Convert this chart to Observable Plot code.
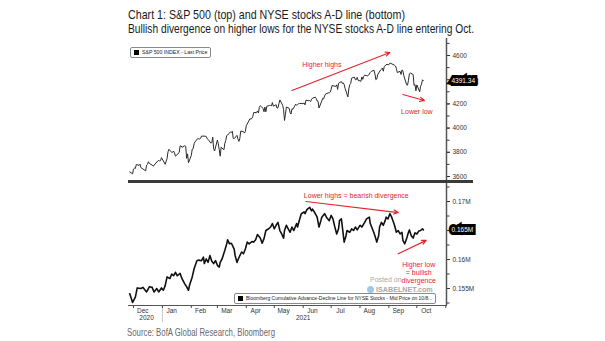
<!DOCTYPE html>
<html><head><meta charset="utf-8">
<script src="https://cdn.jsdelivr.net/npm/d3@7"></script>
<script src="https://cdn.jsdelivr.net/npm/@observablehq/plot@0.6"></script>
<style>
html,body{margin:0;padding:0;background:#fff;}
#wrap{position:relative;width:605px;height:341px;overflow:hidden;background:#fff;font-family:"Liberation Sans",Arial,sans-serif;}
.abs{position:absolute;}
.legend{position:absolute;border:1px solid #8a8a8a;border-radius:2px;background:#fff;font-family:"Liberation Sans",Arial,sans-serif;font-size:5.2px;color:#222;line-height:9px;padding:0 3px;white-space:nowrap;box-sizing:border-box;height:11px;}
.legend i{display:inline-block;width:5px;height:5px;background:#000;margin-right:3px;vertical-align:-0.5px;}
.wm{position:absolute;color:#a8a8a8;white-space:nowrap;}
</style></head><body>
<div id="wrap">
  <svg id="title" class="abs" style="left:0;top:0" width="605" height="38"></svg>
  <div id="top" class="abs" style="left:0;top:38px"></div>
  <div id="bottom" class="abs" style="left:0;top:182px"></div>
  <div class="abs" style="left:128px;top:180px;width:345px;height:3px;background:#3a3a3a"></div>
  <div class="legend" style="left:130px;top:47px;"><i></i>S&amp;P 500 INDEX - Last Price</div>
  <div class="wm" style="left:370px;top:276px;font-size:7px;">Posted on</div>
  <div class="abs" style="left:367px;top:286px;width:7px;height:7px;border-radius:50%;background:#9cc9e6;"></div>
  <div class="wm" style="left:376px;top:285px;font-size:7.2px;font-weight:bold;">ISABELNET.com</div>
  <div class="legend" style="left:234px;top:293px;font-size:5px;"><i></i>Bloomberg Cumulative Advance-Decline Line for NYSE Stocks - Mid Price on 10/8...</div>
  <svg id="source" class="abs" style="left:0;top:322px" width="605" height="19"></svg>
</div>
<script>
// ---------- data ----------
const titleLines = ["Chart 1: S&P 500 (top) and NYSE stocks A-D line (bottom)",
  "Bullish divergence on higher lows for the NYSE stocks A-D line entering Oct."];
const sourceText = "Source: BofA Global Research, Bloomberg";

const spxDates = [
"2020-11-27","2020-11-30",
"2020-12-01","2020-12-02","2020-12-03","2020-12-04","2020-12-07","2020-12-08","2020-12-09","2020-12-10","2020-12-11","2020-12-14","2020-12-15","2020-12-16","2020-12-17","2020-12-18","2020-12-21","2020-12-22","2020-12-23","2020-12-24","2020-12-28","2020-12-29","2020-12-30","2020-12-31",
"2021-01-04","2021-01-05","2021-01-06","2021-01-07","2021-01-08","2021-01-11","2021-01-12","2021-01-13","2021-01-14","2021-01-15","2021-01-19","2021-01-20","2021-01-21","2021-01-22","2021-01-25","2021-01-26","2021-01-27","2021-01-28","2021-01-29",
"2021-02-01","2021-02-02","2021-02-03","2021-02-04","2021-02-05","2021-02-08","2021-02-09","2021-02-10","2021-02-11","2021-02-12","2021-02-16","2021-02-17","2021-02-18","2021-02-19","2021-02-22","2021-02-23","2021-02-24","2021-02-25","2021-02-26",
"2021-03-01","2021-03-02","2021-03-03","2021-03-04","2021-03-05","2021-03-08","2021-03-09","2021-03-10","2021-03-11","2021-03-12","2021-03-15","2021-03-16","2021-03-17","2021-03-18","2021-03-19","2021-03-22","2021-03-23","2021-03-24","2021-03-25","2021-03-26","2021-03-29","2021-03-30","2021-03-31",
"2021-04-01","2021-04-05","2021-04-06","2021-04-07","2021-04-08","2021-04-09","2021-04-12","2021-04-13","2021-04-14","2021-04-15","2021-04-16","2021-04-19","2021-04-20","2021-04-21","2021-04-22","2021-04-23","2021-04-26","2021-04-27","2021-04-28","2021-04-29","2021-04-30",
"2021-05-03","2021-05-04","2021-05-05","2021-05-06","2021-05-07","2021-05-10","2021-05-11","2021-05-12","2021-05-13","2021-05-14","2021-05-17","2021-05-18","2021-05-19","2021-05-20","2021-05-21","2021-05-24","2021-05-25","2021-05-26","2021-05-27","2021-05-28",
"2021-06-01","2021-06-02","2021-06-03","2021-06-04","2021-06-07","2021-06-08","2021-06-09","2021-06-10","2021-06-11","2021-06-14","2021-06-15","2021-06-16","2021-06-17","2021-06-18","2021-06-21","2021-06-22","2021-06-23","2021-06-24","2021-06-25","2021-06-28","2021-06-29","2021-06-30",
"2021-07-01","2021-07-02","2021-07-06","2021-07-07","2021-07-08","2021-07-09","2021-07-12","2021-07-13","2021-07-14","2021-07-15","2021-07-16","2021-07-19","2021-07-20","2021-07-21","2021-07-22","2021-07-23","2021-07-26","2021-07-27","2021-07-28","2021-07-29","2021-07-30",
"2021-08-02","2021-08-03","2021-08-04","2021-08-05","2021-08-06","2021-08-09","2021-08-10","2021-08-11","2021-08-12","2021-08-13","2021-08-16","2021-08-17","2021-08-18","2021-08-19","2021-08-20","2021-08-23","2021-08-24","2021-08-25","2021-08-26","2021-08-27","2021-08-30","2021-08-31",
"2021-09-01","2021-09-02","2021-09-03","2021-09-07","2021-09-08","2021-09-09","2021-09-10","2021-09-13","2021-09-14","2021-09-15","2021-09-16","2021-09-17","2021-09-20","2021-09-21","2021-09-22","2021-09-23","2021-09-24","2021-09-27","2021-09-28","2021-09-29","2021-09-30",
"2021-10-01","2021-10-04","2021-10-05","2021-10-06","2021-10-07","2021-10-08"];
const spxClose = [
3638,3622,
3662,3669,3666,3699,3692,3702,3673,3668,3663,3647,3694,3701,3722,3709,3694,3687,3690,3703,3735,3727,3732,3756,
3701,3726,3748,3804,3825,3799,3801,3810,3795,3768,3798,3852,3853,3841,3855,3849,3750,3787,3714,
3774,3826,3830,3871,3886,3915,3911,3910,3916,3934,3933,3931,3913,3907,3876,3881,3925,3829,3811,
3901,3870,3820,3768,3842,3821,3875,3898,3939,3943,3969,3963,3974,3915,3913,3940,3911,3890,3910,3975,3971,3959,3973,
4020,4078,4074,4080,4097,4129,4128,4142,4125,4171,4185,4163,4135,4174,4135,4180,4188,4187,4184,4211,4181,
4193,4165,4168,4202,4233,4189,4153,4063,4113,4174,4164,4128,4116,4160,4156,4198,4188,4195,4201,4204,
4202,4208,4192,4230,4227,4227,4219,4239,4247,4255,4246,4224,4222,4166,4224,4246,4242,4266,4281,4291,4291,4297,
4320,4352,4344,4358,4320,4370,4385,4369,4374,4360,4327,4258,4323,4359,4368,4412,4422,4401,4400,4419,4395,
4387,4423,4403,4429,4437,4432,4436,4447,4460,4468,4479,4448,4400,4406,4442,4480,4486,4496,4470,4509,4529,4523,
4524,4537,4535,4520,4514,4493,4459,4469,4443,4481,4474,4433,4358,4355,4395,4449,4455,4443,4353,4360,4308,
4357,4300,4346,4363,4399,4391.34];

const adDates = [
"2020-11-27","2020-11-30","2020-12-03","2020-12-05","2020-12-09","2020-12-11","2020-12-15","2020-12-18","2020-12-21","2020-12-23",
"2020-12-26","2020-12-28","2020-12-31","2021-01-02","2021-01-04","2021-01-06","2021-01-09","2021-01-11","2021-01-13","2021-01-15",
"2021-01-17","2021-01-20","2021-01-22","2021-01-25","2021-01-27","2021-01-29","2021-01-30","2021-02-02","2021-02-04","2021-02-07",
"2021-02-09","2021-02-12","2021-02-14","2021-02-15","2021-02-17","2021-02-19","2021-02-21","2021-02-23","2021-02-25","2021-02-27",
"2021-03-01","2021-03-03","2021-03-04","2021-03-06","2021-03-09","2021-03-11","2021-03-12","2021-03-14","2021-03-16","2021-03-19",
"2021-03-20","2021-03-22","2021-03-24","2021-03-27","2021-03-29","2021-03-31","2021-04-02","2021-04-04","2021-04-07","2021-04-09",
"2021-04-11","2021-04-13","2021-04-16","2021-04-18","2021-04-20","2021-04-22","2021-04-25","2021-04-27","2021-04-29","2021-05-01",
"2021-05-03","2021-05-05","2021-05-07","2021-05-09","2021-05-11","2021-05-12","2021-05-14","2021-05-16","2021-05-18","2021-05-20",
"2021-05-22","2021-05-25","2021-05-26","2021-05-28","2021-05-30","2021-06-02","2021-06-03","2021-06-05","2021-06-08","2021-06-10",
"2021-06-11","2021-06-13","2021-06-16","2021-06-18","2021-06-20","2021-06-21","2021-06-24","2021-06-26","2021-06-29","2021-07-01",
"2021-07-03","2021-07-05","2021-07-07","2021-07-09","2021-07-10","2021-07-12","2021-07-15","2021-07-17","2021-07-18","2021-07-21",
"2021-07-23","2021-07-25","2021-07-27","2021-07-29","2021-08-01","2021-08-03","2021-08-06","2021-08-08","2021-08-11","2021-08-12",
"2021-08-15","2021-08-17","2021-08-19","2021-08-21","2021-08-22","2021-08-24","2021-08-26","2021-08-28","2021-08-29","2021-08-31",
"2021-09-02","2021-09-04","2021-09-06","2021-09-07","2021-09-09","2021-09-11","2021-09-13","2021-09-15","2021-09-16","2021-09-18",
"2021-09-20","2021-09-22","2021-09-23","2021-09-25","2021-09-27","2021-09-29","2021-10-01","2021-10-03","2021-10-05","2021-10-07","2021-10-08"];
const adValues = [
0.1541,0.1526,0.1535,0.1551,0.1550,0.1552,0.1544,0.1553,0.1552,0.1544,
0.1550,0.1544,0.1551,0.1547,0.1555,0.1570,0.1567,0.1575,0.1572,0.1578,
0.1572,0.1576,0.1567,0.1558,0.1553,0.1547,0.1555,0.1570,0.1584,0.1598,
0.1599,0.1598,0.1604,0.1593,0.1601,0.1595,0.1607,0.1597,0.1593,0.1598,
0.1590,0.1587,0.1595,0.1601,0.1616,0.1627,0.1634,0.1627,0.1628,0.1618,
0.1607,0.1595,0.1603,0.1613,0.1610,0.1618,0.1630,0.1627,0.1631,0.1630,
0.1634,0.1643,0.1637,0.1628,0.1636,0.1650,0.1653,0.1656,0.1662,0.1653,
0.1659,0.1664,0.1650,0.1644,0.1637,0.1650,0.1659,0.1653,0.1647,0.1656,
0.1650,0.1662,0.1656,0.1668,0.1679,0.1682,0.1679,0.1686,0.1690,0.1684,
0.1687,0.1682,0.1673,0.1656,0.1667,0.1673,0.1679,0.1673,0.1667,0.1676,
0.1670,0.1656,0.1644,0.1653,0.1667,0.1670,0.1630,0.1641,0.1650,0.1647,
0.1653,0.1650,0.1656,0.1651,0.1659,0.1656,0.1664,0.1670,0.1673,0.1662,
0.1650,0.1641,0.1630,0.1641,0.1656,0.1664,0.1659,0.1667,0.1673,0.1670,
0.1679,0.1673,0.1664,0.1659,0.1647,0.1650,0.1644,0.1647,0.1633,0.1627,
0.1636,0.1647,0.1651,0.1641,0.1637,0.1646,0.1644,0.1649,0.1650,0.1653,0.1651];

// labelled ticks (the 4400 and 0.165M ticks sit under the last-value boxes)
const spxTicks = [3600,3800,4000,4200,4600];
const spxMinorTicks = [3600,3700,3800,3900,4000,4100,4200,4300,4400,4500,4600,4700];
const adTicks = [0.155,0.16,0.17];
const adMinorTicks = [0.1525,0.155,0.1575,0.16,0.1625,0.165,0.1675,0.17,0.1725];
const monthStarts = ["2020-12-01","2021-01-01","2021-02-01","2021-03-01","2021-04-01","2021-05-01","2021-06-01","2021-07-01","2021-08-01","2021-09-01","2021-10-01","2021-11-01"];
const monthLabelDates = ["2020-12-11","2021-01-11","2021-02-11","2021-03-11","2021-04-11","2021-05-11","2021-06-11","2021-07-11","2021-08-11","2021-09-11","2021-10-11"];
const yearLabels = [{date:"2020-12-15", text:"2020"}, {date:"2021-06-01", text:"2021"}];
const yearSeparators = ["2021-01-01"];

const topArrows = [
  {x1:"2021-05-20", y1:4311, x2:"2021-09-02", y2:4625},
  {x1:"2021-09-16", y1:4278, x2:"2021-10-09", y2:4228}];
const topNotes = [
  {x:"2021-06-21", y:4526, text:"Higher highs"},
  {x:"2021-10-01", y:4137, text:"Lower low"}];
const bottomArrows = [
  {x1:"2021-06-04", y1:0.1700, x2:"2021-09-11", y2:0.1681},
  {x1:"2021-09-11", y1:0.1610, x2:"2021-10-11", y2:0.1633}];
const bottomNotes = [
  {x:"2021-07-28", y:0.1710, text:"Lower highs = bearish divergence"},
  {x:"2021-10-03", y:0.1591, text:"Higher low"},
  {x:"2021-10-03", y:0.1578, text:"= bullish"},
  {x:"2021-10-03", y:0.1564, text:"divergence"}];

// ---------- build ----------
const parse = d3.utcParse("%Y-%m-%d");
const spx = spxDates.map((d,i)=>({date:parse(d), value:spxClose[i]}));
const ad = adDates.map((d,i)=>({date:parse(d), value:adValues[i]}));
const pd = arr => arr.map(parse);
const arrowRows = arr => arr.map(a=>({...a, x1:parse(a.x1), x2:parse(a.x2)}));
const noteRows = arr => arr.map(a=>({...a, x:parse(a.x)}));
const xDomain = [new Date(Date.UTC(2020,10,25,15)), new Date(Date.UTC(2021,10,1,19))];
const red = "#e8232e";
const fontStack = '"Liberation Sans", Arial, sans-serif';
const axisColor = "#555";

// title
const tsvg = d3.select("#title");
const tw = [277, 346];
titleLines.forEach((t,i)=>{
  tsvg.append("text").attr("x",128).attr("y", i===0 ? 18.5 : 33)
    .attr("font-family",'"Liberation Sans Narrow","Liberation Sans",sans-serif')
    .attr("font-size",13.5).attr("fill","#1a1a1a")
    .attr("textLength", tw[i]).attr("lengthAdjust","spacingAndGlyphs").text(t);
});
d3.select("#source").append("text").attr("x",127).attr("y",14)
  .attr("font-family",'"Liberation Sans Narrow","Liberation Sans",sans-serif')
  .attr("font-size",11).attr("fill","#6a6a6a")
  .attr("textLength",148).attr("lengthAdjust","spacingAndGlyphs").text(sourceText);

const common = {
  width:605, marginLeft:128, marginRight:159, marginTop:0,
  style:{fontFamily:fontStack, fontSize:"6.5px", color:"#333", background:"transparent", overflow:"visible"}
};

const topPlot = Plot.plot({
  ...common, height:143, marginBottom:0,
  x:{type:"utc", domain:xDomain, axis:null},
  y:{domain:[3558.7,4740.5], axis:null},
  marks:[
    Plot.ruleX([xDomain[1]], {stroke:axisColor, strokeWidth:1.5}),
    Plot.axisY({anchor:"right", ticks:spxMinorTicks, tickSize:2.5, tickFormat:()=>"", label:null, stroke:"#333"}),
    Plot.axisY({anchor:"right", ticks:spxTicks, tickSize:3, tickPadding:3, tickFormat:d3.format("d"), label:null, stroke:"#333"}),
    Plot.line(spx, {x:"date", y:"value", stroke:"#2b2b2b", strokeWidth:1}),
    Plot.arrow(arrowRows(topArrows), {x1:"x1", y1:"y1", x2:"x2", y2:"y2", stroke:red, strokeWidth:1.2, headLength:6, headAngle:50}),
    Plot.text(noteRows(topNotes), {x:"x", y:"y", text:"text", fill:red, fontSize:7}),
    Plot.text([spx[spx.length-1]], {y:"value", frameAnchor:"right", textAnchor:"start", dx:5,
      text:d=>d3.format(".2f")(d.value), fill:"white", stroke:"black", strokeWidth:6, strokeLinejoin:"miter", paintOrder:"stroke", fontSize:6.5})
  ]
});
document.getElementById("top").appendChild(topPlot);

const mFmt = d => d3.format(".3~f")(d) + "M";
const bottomPlot = Plot.plot({
  ...common, height:145, marginBottom:22,
  x:{type:"utc", domain:xDomain, axis:null},
  y:{domain:[0.15207,0.17328], axis:null},
  marks:[
    Plot.ruleX([xDomain[1]], {stroke:axisColor, strokeWidth:1.5}),
    Plot.frame({anchor:"bottom", stroke:axisColor}),
    Plot.axisY({anchor:"right", ticks:adMinorTicks, tickSize:2.5, tickFormat:()=>"", label:null, stroke:"#333"}),
    Plot.axisY({anchor:"right", ticks:adTicks, tickSize:3, tickPadding:3, tickFormat:mFmt, label:null, stroke:"#333"}),
    Plot.axisX({ticks:pd(yearSeparators), tickSize:17, tickFormat:()=>"", label:null, stroke:"#c8c8c8"}),
    Plot.axisX({ticks:pd(monthStarts), tickSize:3, tickFormat:()=>"", label:null, stroke:"#444"}),
    Plot.axisX({ticks:pd(monthLabelDates), tickSize:0, tickPadding:3, tickFormat:d3.utcFormat("%b"), label:null}),
    Plot.text(yearLabels, {x:d=>parse(d.date), text:"text", frameAnchor:"bottom", lineAnchor:"top", dy:10}),
    Plot.line(ad, {x:"date", y:"value", stroke:"#111", strokeWidth:1.6, strokeLinejoin:"round"}),
    Plot.arrow(arrowRows(bottomArrows), {x1:"x1", y1:"y1", x2:"x2", y2:"y2", stroke:red, strokeWidth:1.2, headLength:6, headAngle:50}),
    Plot.text(noteRows(bottomNotes), {x:"x", y:"y", text:"text", fill:red, fontSize:7}),
    Plot.text([ad[ad.length-1]], {y:"value", frameAnchor:"right", textAnchor:"start", dx:5,
      text:d=>mFmt(d.value), fill:"white", stroke:"black", strokeWidth:6, strokeLinejoin:"miter", paintOrder:"stroke", fontSize:6.5})
  ]
});
document.getElementById("bottom").appendChild(bottomPlot);
</script>
</body></html>
